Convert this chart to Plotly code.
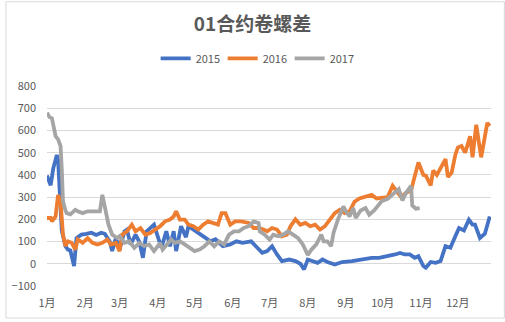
import plotly.graph_objects as go

# Calendar year used to lay the month-day points of every season on one axis
BASE_YEAR = "2017"

dates_2015 = ["01-01", "01-04", "01-06", "01-09", "01-10", "01-12", "01-13", "01-16", "01-18", "01-20",
              "01-23", "01-25", "01-29", "02-02", "02-06", "02-10", "02-14", "02-17", "02-21", "02-23",
              "02-26", "03-01", "03-05", "03-07", "03-10", "03-14", "03-17", "03-20", "03-23", "03-29",
              "04-01", "04-04", "04-08", "04-11", "04-14", "04-16", "04-20", "04-24", "04-26", "04-30",
              "05-04", "05-08", "05-14", "05-18", "05-24", "05-30", "06-04", "06-09", "06-16", "06-21",
              "06-25", "06-29", "07-03", "07-07", "07-11", "07-17", "07-22", "07-26", "07-29", "08-01",
              "08-05", "08-09", "08-13", "08-17", "08-23", "08-29", "09-06", "09-14", "09-22", "09-28",
              "10-06", "10-11", "10-15", "10-19", "10-23", "10-27", "10-30", "11-03", "11-05", "11-09",
              "11-13", "11-17", "11-21", "11-25", "11-29", "12-02", "12-06", "12-10", "12-13", "12-15",
              "12-19", "12-23", "12-27"]
values_2015 = [397, 353, 427, 490, 470, 300, 150, 79, 64, 60,
               -10, 116, 131, 135, 140, 130, 140, 135, 100, 57,
               116, 64, 146, 154, 87, 131, 100, 27, 146, 176,
               116, 72, 146, 79, 146, 57, 169, 120, 169, 154,
               139, 124, 101, 110, 79, 87, 101, 94, 101, 72,
               49, 57, 79, 42, 12, 19, 12, 0, -25, 19,
               12, 4, 19, 8, -3, 8, 12, 19, 27, 27,
               34, 42, 49, 42, 42, 27, 34, -10, -18, 8,
               4, 12, 79, 72, 124, 161, 150, 198, 176, 176,
               116, 135, 213]

dates_2016 = ["01-01", "01-04", "01-05", "01-08", "01-10", "01-12", "01-14", "01-16", "01-18", "01-21",
              "01-24", "01-26", "01-30", "02-03", "02-07", "02-11", "02-15", "02-19", "02-22", "02-26",
              "03-01", "03-03", "03-07", "03-11", "03-14", "03-18", "03-22", "03-26", "03-30", "04-03",
              "04-07", "04-11", "04-14", "04-16", "04-19", "04-23", "04-26", "04-30", "05-04", "05-08",
              "05-12", "05-16", "05-20", "05-23", "05-26", "05-30", "06-03", "06-08", "06-14", "06-18",
              "06-22", "06-26", "06-29", "07-03", "07-07", "07-11", "07-15", "07-18", "07-22", "07-26",
              "07-30", "08-03", "08-07", "08-11", "08-15", "08-19", "08-23", "08-27", "08-31", "09-04",
              "09-08", "09-12", "09-16", "09-22", "09-26", "10-02", "10-05", "10-09", "10-12", "10-16",
              "10-20", "10-24", "10-26", "10-30", "11-03", "11-05", "11-09", "11-11", "11-14", "11-18",
              "11-21", "11-23", "11-26", "11-29", "12-01", "12-04", "12-07", "12-11", "12-13", "12-16",
              "12-20", "12-25", "12-27"]
values_2016 = [206, 206, 191, 213, 310, 280, 131, 79, 101, 95,
               64, 110, 94, 115, 94, 87, 94, 109, 87, 94,
               57, 131, 146, 176, 146, 161, 131, 138, 154, 169,
               191, 199, 213, 236, 199, 199, 176, 169, 154, 176,
               191, 184, 176, 228, 228, 176, 191, 191, 184, 161,
               161, 154, 146, 161, 154, 124, 131, 169, 200, 176,
               184, 169, 176, 154, 169, 199, 228, 243, 228, 236,
               279, 294, 300, 310, 294, 300, 300, 351, 330, 300,
               320, 330, 373, 456, 400, 397, 353, 420, 400, 442,
               471, 390, 410, 490, 523, 530, 500, 574, 479, 626,
               479, 634, 620]

dates_2017 = ["01-01", "01-03", "01-05", "01-07", "01-08", "01-10", "01-12", "01-13", "01-14", "01-16",
              "01-17", "01-20", "01-24", "01-26", "01-30", "02-03", "02-09", "02-13", "02-15", "02-17",
              "02-20", "02-23", "02-27", "03-01", "03-05", "03-09", "03-13", "03-17", "03-21", "03-25",
              "03-29", "03-31", "04-03", "04-05", "04-09", "04-12", "04-15", "04-19", "04-23", "04-27",
              "05-01", "05-05", "05-09", "05-13", "05-17", "05-21", "05-25", "05-29", "06-02", "06-06",
              "06-10", "06-14", "06-18", "06-22", "06-23", "06-27", "07-01", "07-04", "07-08", "07-12",
              "07-16", "07-20", "07-24", "07-28", "08-01", "08-04", "08-08", "08-12", "08-14", "08-17",
              "08-20", "08-22", "08-26", "08-30", "09-01", "09-04", "09-07", "09-09", "09-13", "09-17",
              "09-20", "09-24", "09-30", "10-05", "10-10", "10-14", "10-17", "10-20", "10-24", "10-25",
              "10-28", "10-31"]
values_2017 = [680, 660, 655, 600, 574, 560, 530, 427, 281, 240,
               228, 222, 243, 236, 228, 236, 236, 236, 310, 250,
               176, 131, 116, 124, 94, 101, 72, 94, 80, 87,
               57, 72, 94, 64, 87, 109, 94, 101, 87, 72,
               57, 64, 79, 101, 79, 101, 87, 131, 146, 146,
               161, 169, 191, 184, 146, 131, 109, 131, 124, 131,
               146, 131, 116, 87, 40, 64, 87, 131, 101, 101,
               79, 140, 206, 258, 236, 213, 251, 206, 240, 251,
               221, 240, 281, 292, 314, 336, 285, 320, 351, 262,
               248, 250]

series_names = ["2015", "2016", "2017"]
series_colors = ["#4472C4", "#ED7D31", "#A5A5A5"]

month_starts = ["%s-%02d-01" % (BASE_YEAR, m) for m in range(1, 13)]
month_labels = ["%d月" % m for m in range(1, 13)]
y_ticks = list(range(-100, 801, 100))

TEXT = "#595959"
GRID = "#D9D9D9"
FONT = "Noto Sans CJK SC"

W, H = 505, 322
ML, MR, MT, MB = 42, 14, 86, 33
PW, PH = W - ML - MR, H - MT - MB
Y_MIN, Y_MAX = -100, 800

fig = go.Figure()
for name, color, ds, vs in zip(series_names, series_colors,
                               [dates_2015, dates_2016, dates_2017],
                               [values_2015, values_2016, values_2017]):
    fig.add_trace(go.Scatter(
        x=["%s-%s" % (BASE_YEAR, d) for d in ds], y=vs, name=name, mode="lines",
        line=dict(color=color, width=3.8), hoverinfo="skip",
    ))

x_range = ["%s-01-01" % BASE_YEAR, "%s-12-28" % BASE_YEAR]

fig.update_layout(
    width=W, height=H,
    margin=dict(l=ML, r=MR, t=MT, b=MB),
    paper_bgcolor="white", plot_bgcolor="white",
    font=dict(family=FONT, color=TEXT, size=11),
    title=dict(text="<b>01合约卷螺差</b>", x=0.5, xanchor="center", y=1 - 24 / H, yanchor="middle",
               font=dict(family=FONT, size=19, color=TEXT)),
    legend=dict(orientation="h", x=0.5 - 13 / PW, xanchor="center", xref="paper",
                y=(H - MB - 58) / PH, yref="paper", yanchor="middle",
                font=dict(family=FONT, size=11, color=TEXT),
                entrywidth=22, entrywidthmode="pixels", itemwidth=30),
    xaxis=dict(type="date", range=x_range, tickvals=month_starts, ticktext=month_labels,
               showgrid=False, zeroline=False, showline=False, ticks="",
               ticklabelstandoff=9, tickfont=dict(size=11, color=TEXT, family=FONT)),
    # category axis line drawn at the zero level with small outside ticks
    xaxis2=dict(type="date", range=x_range, tickvals=month_starts, overlaying="x", anchor="free",
                position=(0 - Y_MIN) / (Y_MAX - Y_MIN), side="bottom",
                showgrid=False, zeroline=False, showline=True, linecolor=GRID, linewidth=1,
                ticks="outside", ticklen=5, tickcolor=GRID, tickwidth=1, showticklabels=False),
    yaxis=dict(range=[Y_MIN, Y_MAX], tickvals=y_ticks, showgrid=True, gridcolor=GRID, gridwidth=1,
               zeroline=False, showline=False, ticks="", ticklabelstandoff=10,
               tickfont=dict(size=11, color=TEXT, family=FONT)),
    shapes=[dict(type="rect", xref="paper", yref="paper",
                 x0=(0.5 - ML) / PW, x1=(W - 0.5 - ML) / PW,
                 y0=(H - MB - (H - 0.5)) / PH, y1=(H - MB - 0.5) / PH,
                 line=dict(color=GRID, width=1), fillcolor="rgba(0,0,0,0)", layer="below")],
)

fig.write_html("out.html")
